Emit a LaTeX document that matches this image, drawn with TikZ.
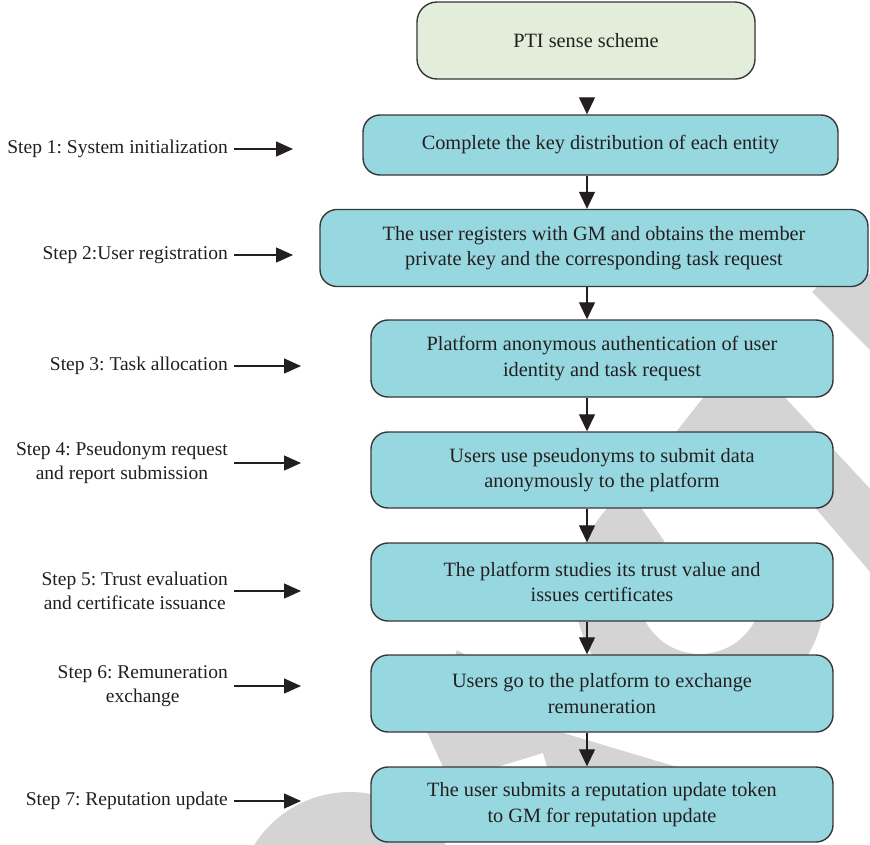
\documentclass[tikz,border=0pt]{standalone}
\usepackage{fontspec}
\setmainfont{Liberation Serif}
\usetikzlibrary{arrows.meta,calc}

\definecolor{boxteal}{RGB}{151,216,224}
\definecolor{boxgreen}{RGB}{227,238,218}
\definecolor{inkdark}{RGB}{35,31,32}
\definecolor{edgegray}{RGB}{55,55,55}
\definecolor{stampgray}{RGB}{212,212,212}

\newcommand\boxfont{\frenchspacing\fontsize{20.3}{25.5}\selectfont}
\newcommand\labelfont{\frenchspacing\fontsize{19.5}{24}\selectfont}

\begin{document}
\begin{tikzpicture}[x=1pt,y=-1pt,
  stagebox/.style={draw=edgegray, line width=1.4pt, rounded corners=17pt,
    fill=boxteal, align=center, text=inkdark, font=\boxfont, inner sep=0pt},
  startbox/.style={stagebox, fill=boxgreen, rounded corners=20pt},
  steplabel/.style={align=center, text=inkdark, font=\labelfont, inner sep=0pt, anchor=east},
  flow/.style={draw=inkdark, line width=1.3pt, -{Triangle[length=17pt,width=16pt]}},
  pointer/.style={draw=inkdark, line width=1.3pt, shorten <=6pt, -{Triangle[length=17pt,width=15pt]}},
  stamp/.style={fill=stampgray, draw=none}
]
\useasboundingbox (0,0) rectangle (870,844);

% faint stamp strokes in the background
\begin{scope}
  \clip (0,0) rectangle (870,844);
  \path[stamp] (812,292) -- (830,274) -- (900,274) -- (900,380) -- cycle;
  \path[stamp] (689,360) -- (750,360) -- (974,600) -- (894,600) -- cycle;
  \path[stamp] (756,330) -- (831,330) -- (694,505) -- (619,505) -- cycle;
  \path[stamp] (700,592) ++(-15:125) arc[start angle=-15, end angle=235, radius=125]
    -- ($(700,592)+(235:62)$) arc[start angle=235, end angle=-15, radius=62] -- cycle;
  \path[stamp] (350,905) circle[radius=113];
  \path[stamp] (457,650) -- (475,660) -- (560,732) -- (677,767) -- (547,767)
    -- (543,753) -- (497,767) -- (443,767) -- (427,732) -- cycle;
\end{scope}

% process boxes
\node[startbox, minimum width=338pt, minimum height=77pt] (top) at (586,40.5) {PTI sense scheme};
\node[stagebox, minimum width=475pt, minimum height=60pt] (b1) at (600.5,145) {Complete the key distribution of each entity};
\node[stagebox, minimum width=548pt, minimum height=77pt] (b2) at (594,248)
  {The user registers with GM and obtains the member\\private key and the corresponding task request};
\node[stagebox, minimum width=462pt, minimum height=77pt] (b3) at (602,358.5)
  {Platform anonymous authentication of user\\identity and task request};
\node[stagebox, minimum width=462pt, minimum height=76pt] (b4) at (602,470)
  {Users use pseudonyms to submit data\\anonymously to the platform};
\node[stagebox, minimum width=462pt, minimum height=78pt] (b5) at (602,582)
  {The platform studies its trust value and\\issues certificates};
\node[stagebox, minimum width=462pt, minimum height=77pt] (b6) at (602,693.5)
  {Users go to the platform to exchange\\remuneration};
\node[stagebox, minimum width=462pt, minimum height=75pt] (b7) at (602,804.5)
  {The user submits a reputation update token\\to GM for reputation update};

% vertical flow
\coordinate (ax) at (587,0);
\draw[flow, shorten <=18pt] (top.south -| ax) -- (b1.north -| ax);
\draw[flow] (b1.south -| ax) -- (b2.north -| ax);
\draw[flow] (b2.south -| ax) -- (b3.north -| ax);
\draw[flow] (b3.south -| ax) -- (b4.north -| ax);
\draw[flow] (b4.south -| ax) -- (b5.north -| ax);
\draw[flow] (b5.south -| ax) -- (b6.north -| ax);
\draw[flow] (b6.south -| ax) -- (b7.north -| ax);

% step labels with their pointers
\node[steplabel] (s1) at (228,149) {Step 1: System initialization};
\node[steplabel] (s2) at (228,255) {Step 2:User registration};
\node[steplabel] (s3) at (228,366) {Step 3: Task allocation};
\node[steplabel] (s4) at (228,463) {Step 4: Pseudonym request\\and report submission};
\node[steplabel] (s5) at (228,591) {Step 5: Trust evaluation\\and certificate issuance};
\node[steplabel] (s6) at (228,686) {Step 6: Remuneration\\exchange};
\node[steplabel] (s7) at (228,801) {Step 7: Reputation update};

\coordinate (p1) at (293,149);
\coordinate (p2) at (293,255);
\coordinate (p3) at (301,366);
\coordinate (p4) at (301,463);
\coordinate (p5) at (301,591);
\coordinate (p6) at (301,686);
\coordinate (p7) at (301,801);

\draw[pointer] (s1.east) -- (p1);
\draw[pointer] (s2.east) -- (p2);
\draw[pointer] (s3.east) -- (p3);
\draw[pointer] (s4.east) -- (p4);
\draw[pointer] (s5.east) -- (p5);
\draw[pointer] (s6.east) -- (p6);
\draw[pointer] (s7.east) -- (p7);
\end{tikzpicture}
\end{document}
